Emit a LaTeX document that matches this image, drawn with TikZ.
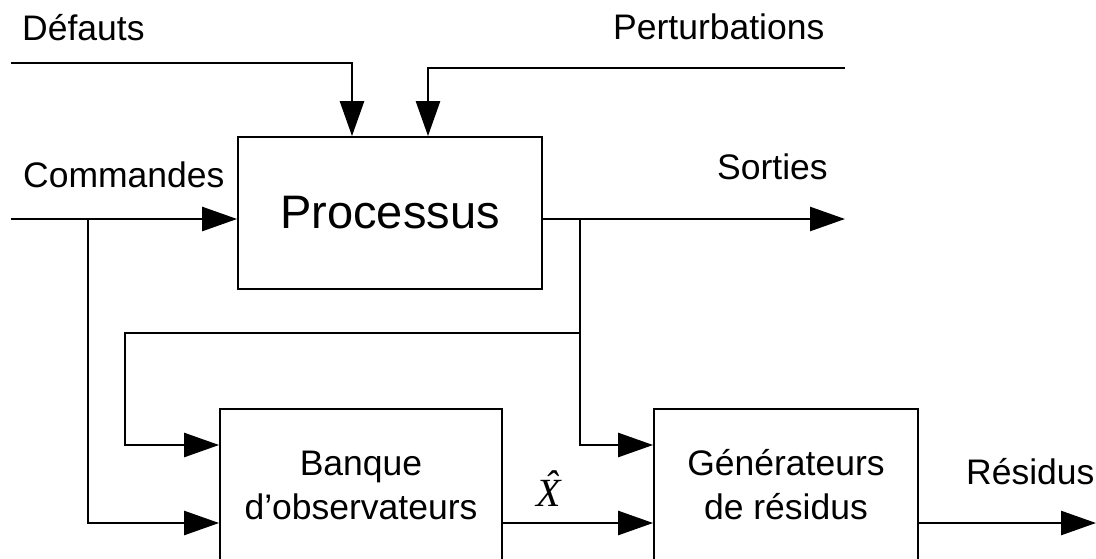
\documentclass[tikz,border=0pt]{standalone}
\usepackage{fontspec}
\setmainfont{Liberation Sans}
\newfontfamily\xhatfont{Liberation Serif}
\usetikzlibrary{arrows.meta}
\begin{document}
\begin{tikzpicture}[x=1pt,y=-1pt,
  blk/.style={draw, line width=1.8pt, inner sep=0pt, align=center, font=\fontsize{35.5}{44}\selectfont},
  lbl/.style={inner sep=0pt, font=\fontsize{35.5}{42}\selectfont},
  conn/.style={line width=2.6pt},
  arr/.style={conn, -{Triangle[length=35pt,width=24pt]}}]
\path[use as bounding box, clip] (0,0) rectangle (1096,558);
\fill[white] (0,0) rectangle (1096,558);
% blocks
\node[blk, minimum width=304pt, minimum height=152pt, font=\fontsize{47}{56}\selectfont] (proc) at (390,213) {Processus};
\node[blk, minimum width=282pt, minimum height=152pt] (obs) at (361,485) {Banque\\d’observateurs};
\node[blk, minimum width=264pt, minimum height=152pt] (gen) at (786,485) {Générateurs\\de résidus};
% labels
\node[lbl, anchor=base west] (tdef) at (22,40) {Défauts};
\node[lbl, anchor=base west] (tper) at (613,39) {Perturbations};
\node[lbl, anchor=base west] (tcmd) at (23,187) {Commandes};
\node[lbl, anchor=base west] (tres) at (966,484) {Résidus};
\node[lbl, anchor=base west] (tsor) at (717,179) {Sorties};
\node[inner sep=0pt, font=\xhatfont\itshape\fontsize{40}{44}\selectfont, anchor=base] (txh) at (549,506) {\accent"02C6 X};
% free ends and junctions
\coordinate (d0) at (11,63);
\coordinate (p0) at (845,68);
\coordinate (in) at (11,219);
\coordinate (out) at (845,219);
\coordinate (b1) at (88,219);
\coordinate (b2) at (580,219);
\coordinate (fb) at (125,333);
\coordinate (yup) at (0,445);
\coordinate (ylow) at (0,523);
\coordinate (res) at (1096,523);
% connectors
\draw[arr] (d0) -| ([xshift=-38pt]proc.north);
\draw[arr] (p0) -| ([xshift=38pt]proc.north);
\draw[arr] (in) -- (in -| proc.west);
\draw[arr] (proc.east |- out) -- (out);
\draw[arr] (b1) |- (obs.west |- ylow);
\draw[arr] (b2) |- (fb) |- (obs.west |- yup);
\draw[arr] (b2) |- (gen.west |- yup);
\draw[arr] (obs.east |- ylow) -- (gen.west |- ylow);
\draw[arr] (gen.east |- ylow) -- (res);
\end{tikzpicture}
\end{document}
